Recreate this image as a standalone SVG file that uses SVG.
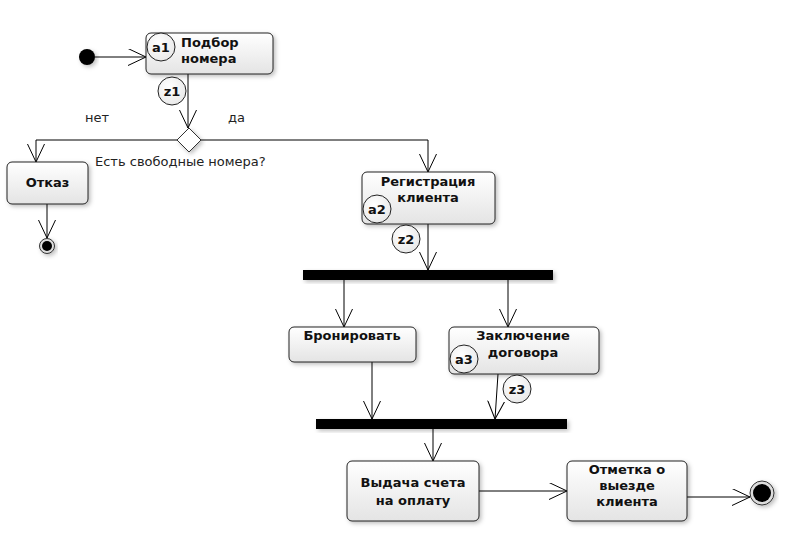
<svg xmlns="http://www.w3.org/2000/svg" width="794" height="535" viewBox="0 0 794 535">
<style>
.box{fill:url(#g);stroke:#222;stroke-width:1;filter:url(#sh)}
.lbl{font-family:"DejaVu Sans",Verdana,sans-serif;font-weight:bold;font-size:13px;fill:#111;text-anchor:middle}
.lbll{font-family:"DejaVu Sans",Verdana,sans-serif;font-weight:bold;font-size:13px;fill:#111}
.txt{font-family:"DejaVu Sans",Verdana,sans-serif;font-size:13px;fill:#222}
.tag{fill:url(#gc);stroke:#222;stroke-width:1}
.tagt{font-family:"DejaVu Sans",Verdana,sans-serif;font-weight:bold;font-size:13px;fill:#111;text-anchor:middle}
.c{fill:none;stroke:#000;stroke-width:1}
.bar{fill:#000;filter:url(#sh)}
</style>
<defs>
<linearGradient id="g" x1="0" y1="0" x2="0" y2="1">
<stop offset="0" stop-color="#ffffff"/>
<stop offset="1" stop-color="#e4e4e4"/>
</linearGradient>
<radialGradient id="gc" cx="0.4" cy="0.35" r="0.7">
<stop offset="0" stop-color="#ffffff"/>
<stop offset="1" stop-color="#e8e8e8"/>
</radialGradient>
<filter id="sh" x="-20%" y="-20%" width="140%" height="160%">
<feDropShadow dx="2" dy="2" stdDeviation="2" flood-color="#000" flood-opacity="0.25"/>
</filter>
<marker id="ar" markerUnits="userSpaceOnUse" markerWidth="20" markerHeight="18" refX="18" refY="8.5" orient="auto" viewBox="0 0 20 18">
<path d="M0,0 L18,8.5 L0,17" fill="none" stroke="#000" stroke-width="1"/>
</marker>
</defs>
<rect width="794" height="535" fill="#fff"/>
<g id="connectors">
<line class="c" x1="95" y1="57" x2="146" y2="57" marker-end="url(#ar)"/>
<line class="c" x1="188" y1="74" x2="188" y2="128" marker-end="url(#ar)"/>
<polyline class="c" points="177,140 36,140 36,162" marker-end="url(#ar)"/>
<polyline class="c" points="201,140 428,140 428,172" marker-end="url(#ar)"/>
<line class="c" x1="47" y1="204" x2="47" y2="238" marker-end="url(#ar)"/>
<line class="c" x1="428" y1="224" x2="428" y2="270" marker-end="url(#ar)"/>
<line class="c" x1="344" y1="280" x2="344" y2="327" marker-end="url(#ar)"/>
<line class="c" x1="508" y1="280" x2="508" y2="327" marker-end="url(#ar)"/>
<line class="c" x1="372" y1="362" x2="372" y2="419" marker-end="url(#ar)"/>
<line class="c" x1="498" y1="374" x2="495" y2="419" marker-end="url(#ar)"/>
<line class="c" x1="433" y1="429" x2="433" y2="461" marker-end="url(#ar)"/>
<line class="c" x1="479" y1="491" x2="567" y2="491" marker-end="url(#ar)"/>
<line class="c" x1="687" y1="497" x2="750" y2="497" marker-end="url(#ar)"/>
<text class="txt" x="85" y="122">нет</text>
<text class="txt" x="228" y="122">да</text>
</g>
<g id="start">
<circle cx="87" cy="57" r="8" fill="#000" filter="url(#sh)"/>
</g>
<g id="a1">
<rect class="box" x="146" y="33" width="127" height="41" rx="5"/>
<text class="lbll" x="181" y="47">Подбор</text>
<text class="lbll" x="181" y="63">номера</text>
<circle class="tag" cx="161" cy="47" r="14"/>
<text class="tagt" x="161" y="52">a1</text>
<circle class="tag" cx="172" cy="91" r="14"/>
<text class="tagt" x="172" y="96">z1</text>
</g>
<g id="decision">
<polygon points="189,128 201,140 189,152 177,140" fill="#fff" stroke="#333" stroke-width="1" filter="url(#sh)"/>
<text class="txt" x="95" y="166">Есть свободные номера?</text>
</g>
<g id="otkaz">
<rect class="box" x="7" y="162" width="81" height="42" rx="5"/>
<text class="lbl" x="47.5" y="187">Отказ</text>
</g>
<g id="end1">
<circle cx="47" cy="246" r="7.5" fill="#ddd" stroke="#333" stroke-width="1" filter="url(#sh)"/>
<circle cx="47" cy="246" r="5" fill="#000"/>
</g>
<g id="a2">
<rect class="box" x="362" y="172" width="133" height="52" rx="5"/>
<text class="lbl" x="428" y="186">Регистрация</text>
<text class="lbl" x="428" y="202">клиента</text>
<circle class="tag" cx="377" cy="209" r="14"/>
<text class="tagt" x="377" y="214">a2</text>
<circle class="tag" cx="406" cy="239" r="14"/>
<text class="tagt" x="406" y="244">z2</text>
</g>
<g id="fork">
<rect class="bar" x="303" y="270" width="250" height="10"/>
</g>
<g id="bron">
<rect class="box" x="289" y="327" width="127" height="35" rx="5"/>
<text class="lbl" x="352" y="340">Бронировать</text>
</g>
<g id="a3">
<rect class="box" x="449" y="327" width="150" height="47" rx="5"/>
<text class="lbl" x="523" y="340">Заключение</text>
<text class="lbl" x="523" y="357">договора</text>
<circle class="tag" cx="464" cy="359" r="14"/>
<text class="tagt" x="464" y="364">a3</text>
<circle class="tag" cx="517" cy="389" r="14"/>
<text class="tagt" x="517" y="394">z3</text>
</g>
<g id="join">
<rect class="bar" x="316" y="419" width="251" height="10"/>
</g>
<g id="vydacha">
<rect class="box" x="347" y="461" width="132" height="60" rx="5"/>
<text class="lbl" x="413" y="487">Выдача счета</text>
<text class="lbl" x="413" y="505">на оплату</text>
</g>
<g id="otmetka">
<rect class="box" x="567" y="461" width="120" height="60" rx="5"/>
<text class="lbl" x="627" y="474">Отметка о</text>
<text class="lbl" x="627" y="490">выезде</text>
<text class="lbl" x="627" y="506">клиента</text>
</g>
<g id="end2">
<circle cx="762" cy="493" r="12" fill="#ddd" stroke="#333" stroke-width="1" filter="url(#sh)"/>
<circle cx="762" cy="493" r="9" fill="#000"/>
</g>
</svg>
